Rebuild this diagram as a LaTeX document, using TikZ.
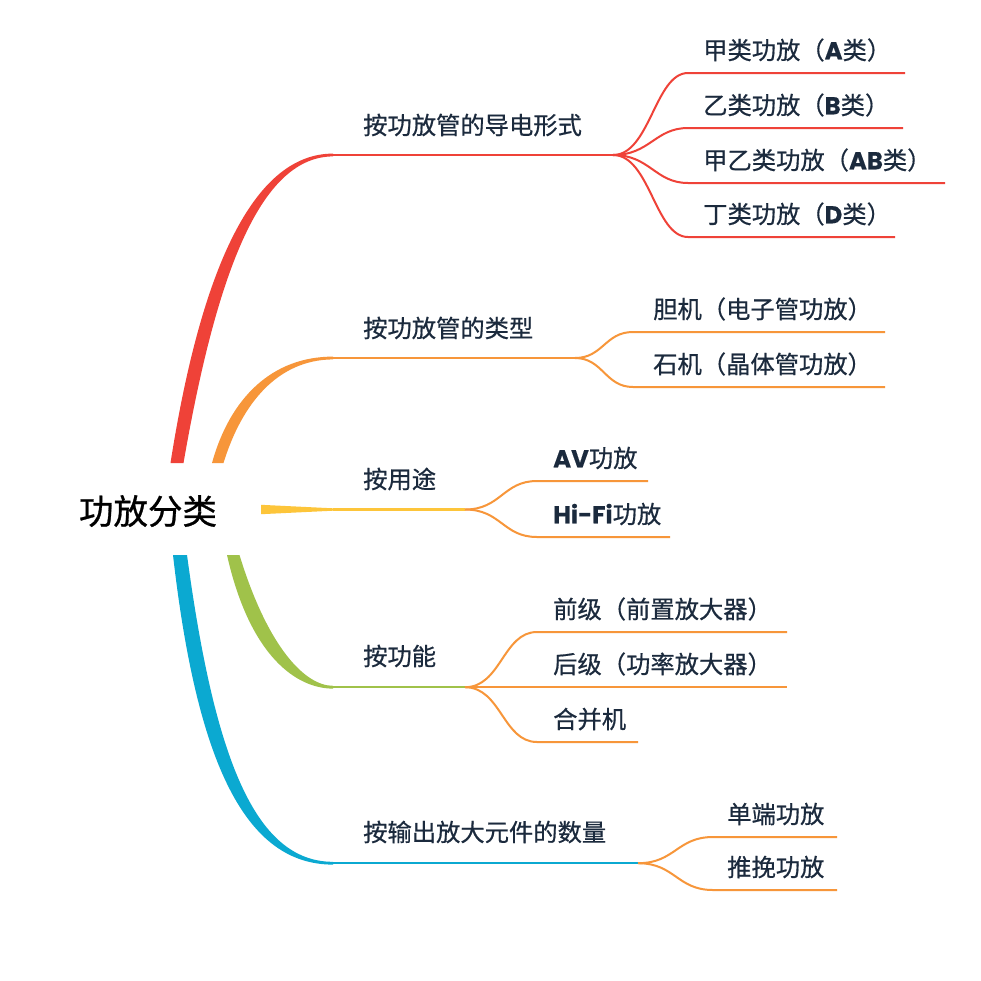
\documentclass[tikz,border=0pt]{standalone}
\usepackage{fontspec}
\newfontfamily\cjk[FakeBold=0.6]{Noto Sans CJK SC}
\newfontfamily\rootfont[FakeBold=0.8]{Noto Sans CJK SC}
\newfontfamily\lat[FakeBold=0.3]{Poppins}
\definecolor{txt}{HTML}{1B2A3D}
\definecolor{cred}{HTML}{EF4238}
\definecolor{corange}{HTML}{F7963A}
\definecolor{cyellow}{HTML}{FDC53A}
\definecolor{cgreen}{HTML}{A0C24A}
\definecolor{cblue}{HTML}{0BA9D1}
\newcommand{\La}[1]{{\lat\bfseries #1}}
\tikzset{
  lbl/.style={font=\cjk\fontsize{24.3}{25}\selectfont, text=txt, anchor=west, inner sep=0pt, text height=21.4pt, text depth=2.9pt},
  rootlbl/.style={font=\rootfont\fontsize{34.5}{35}\selectfont, text=black, inner sep=0pt, text height=30.4pt, text depth=4.1pt},
  bline/.style={line width=2.4pt},
  lline/.style={line width=2pt},
}
\begin{document}
\begin{tikzpicture}[x=1pt,y=-1pt]
\useasboundingbox[fill=white] (0,0) rectangle (981,980);

% root
\node[rootlbl] (root) at (148,511) {功放分类};

% ---------- thick tapered branch roots ----------
\fill[cred] (170.5,463) .. controls (203,256) and (258,153.6) .. (333,153.6) -- (333,156.4) .. controls (263,156.8) and (218,264) .. (183.5,463) -- cycle;
\fill[corange] (212,463) .. controls (230,398) and (272,356.6) .. (333,356.6) -- (333,359.4) .. controls (278,359.7) and (242,403) .. (223.5,463) -- cycle;
\fill[cyellow] (261,504.8) -- (333,508.3) -- (333,510.7) -- (261,514.2) -- cycle;
\fill[cgreen] (227,555) .. controls (250,657) and (297,688.6) .. (333,688.6) -- (333,685.8) .. controls (304,685.8) and (267,645) .. (239.5,555) -- cycle;
\fill[cblue] (173,555) .. controls (197,765) and (246,864.6) .. (333,864.6) -- (333,861.8) .. controls (254,861.8) and (214,755) .. (187,555) -- cycle;

% branch coordinates
\coordinate (b1) at (333,155);   \coordinate (f1) at (613,155);
\coordinate (b2) at (333,358);   \coordinate (f2) at (575,358);
\coordinate (b3) at (333,509.5); \coordinate (f3) at (465,509.5);
\coordinate (b4) at (333,687.2); \coordinate (f4) at (465,687.2);
\coordinate (b5) at (333,863.2); \coordinate (f5) at (638,863.2);

\draw[bline,cred] (b1) -- (f1);
\draw[bline,corange] (b2) -- (f2);
\draw[bline,cyellow] (b3) -- (f3);
\draw[bline,cgreen] (b4) -- (f4);
\draw[bline,cblue] (b5) -- (f5);

% branch labels
\node[lbl] (n1) at (363,125) {按功放管的导电形式};
\node[lbl] (n2) at (363,328) {按功放管的类型};
\node[lbl] (n3) at (363,479) {按用途};
\node[lbl] (n4) at (363,656) {按功能};
\node[lbl] (n5) at (363,832) {按输出放大元件的数量};

% ---------- red group ----------
\foreach \nm/\y/\xe in {a1/73/905, a2/128/903, a3/183/945, a4/237/895}{
  \coordinate (\nm s) at (688,\y);
  \coordinate (\nm e) at (\xe,\y);
  \draw[lline,cred] (f1) .. controls +(37,0) and +(-33,0) .. (\nm s) -- (\nm e);
}
\node[lbl] (ta1) at (703,50) {甲类功放（\La{A}类）};
\node[lbl] (ta2) at (703,105) {乙类功放（\La{B}类）};
\node[lbl] (ta3) at (703,160) {甲乙类功放（\La{AB}类）};
\node[lbl] (ta4) at (703,214) {丁类功放（\La{D}类）};

% ---------- orange group ----------
\foreach \nm/\y/\xe in {c1/332/885, c2/387/885}{
  \coordinate (\nm s) at (633,\y);
  \coordinate (\nm e) at (\xe,\y);
  \draw[lline,corange] (f2) .. controls +(28,0) and +(-28,0) .. (\nm s) -- (\nm e);
}
\node[lbl] (tc1) at (653,309) {胆机（电子管功放）};
\node[lbl] (tc2) at (653,364) {石机（晶体管功放）};

% ---------- yellow group ----------
\foreach \nm/\y/\xe in {d1/481/648, d2/537/670}{
  \coordinate (\nm s) at (537,\y);
  \coordinate (\nm e) at (\xe,\y);
  \draw[lline,corange] (f3) .. controls +(36,0) and +(-34,0) .. (\nm s) -- (\nm e);
}
\node[lbl] (td1) at (553,458) {\La{AV}功放};
\node[lbl] (td2) at (553,514) {\La{Hi-Fi}功放};

% ---------- green group ----------
\foreach \nm/\y/\xe in {g1/632/787, g3/742/638}{
  \coordinate (\nm s) at (537,\y);
  \coordinate (\nm e) at (\xe,\y);
  \draw[lline,corange] (f4) .. controls +(36,0) and +(-34,0) .. (\nm s) -- (\nm e);
}
\coordinate (g2e) at (787,687.2);
\draw[lline,corange] (f4) -- (g2e);
\node[lbl] (tg1) at (553,609) {前级（前置放大器）};
\node[lbl] (tg2) at (553,664) {后级（功率放大器）};
\node[lbl] (tg3) at (553,719) {合并机};

% ---------- blue group ----------
\foreach \nm/\y/\xe in {h1/837/837, h2/890/837}{
  \coordinate (\nm s) at (713,\y);
  \coordinate (\nm e) at (\xe,\y);
  \draw[lline,corange] (f5) .. controls +(37,0) and +(-36,0) .. (\nm s) -- (\nm e);
}
\node[lbl] (th1) at (727,814) {单端功放};
\node[lbl] (th2) at (727,867) {推挽功放};
\end{tikzpicture}
\end{document}
